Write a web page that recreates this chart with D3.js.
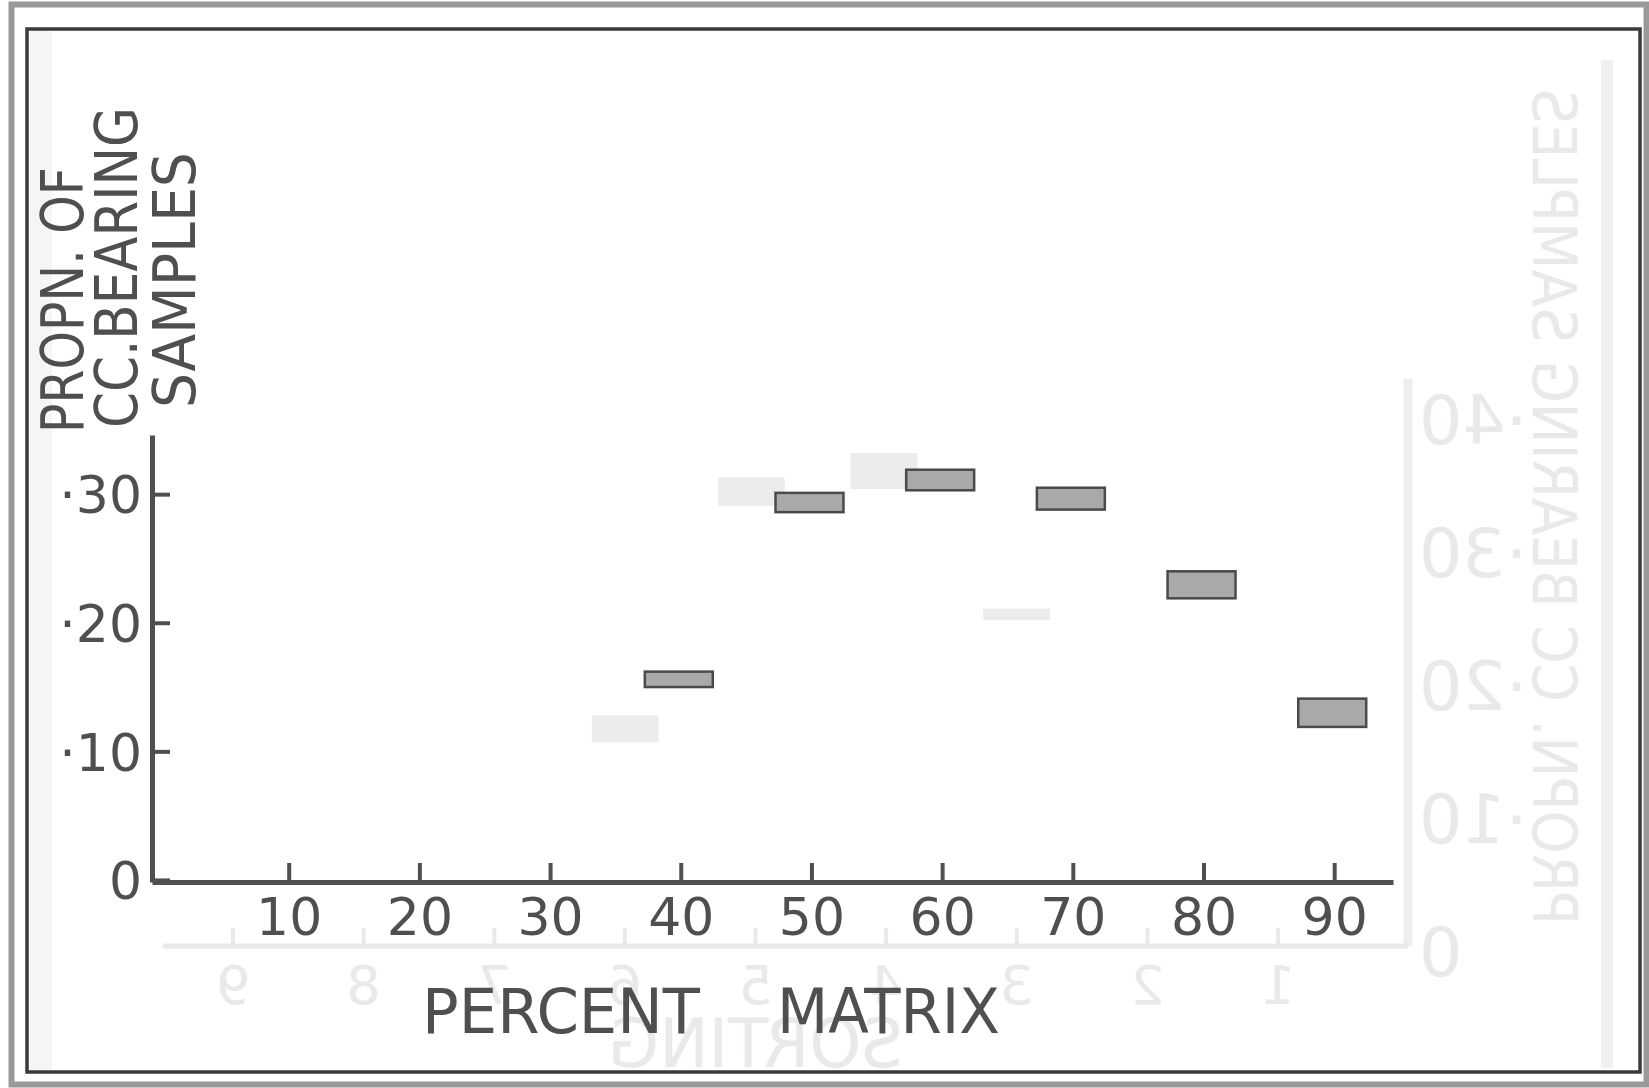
<!DOCTYPE html>
<html>
<head>
<meta charset="utf-8">
<script src="https://cdn.jsdelivr.net/npm/d3@7"></script>
<style>
  html, body { margin: 0; padding: 0; background: #fff; }
  svg { display: block; font-family: "DejaVu Sans", sans-serif; }
</style>
</head>
<body>
<svg id="chart" width="1649" height="1088"></svg>
<script>
// Proportion of CC-bearing samples against percent matrix.
// Each bar is a range (low..high).
const categories = [40, 50, 60, 70, 80, 90];
const lowValues  = [0.150, 0.286, 0.303, 0.288, 0.219, 0.119];
const highValues = [0.162, 0.301, 0.319, 0.305, 0.240, 0.141];

const xTicks = [10, 20, 30, 40, 50, 60, 70, 80, 90];
const yTicks = [0, 0.1, 0.2, 0.3];

// show-through from the reverse side of the page (mirrored "SORTING" chart)
const ghostCenters = [35.75, 45.4, 55.55, 65.7];
const ghostLow     = [0.107, 0.291, 0.304, 0.202];
const ghostHigh    = [0.128, 0.313, 0.332, 0.211];
const ghostXLabels = [1, 2, 3, 4, 5, 6, 7, 8, 9];
const ghostYTicks  = [0, 0.1, 0.2, 0.3, 0.4];

const svg = d3.select("#chart");
const INK = "#4f4f4f";
const GHOST = "#e9e9e9";

// scales (front chart)
const x = d3.scaleLinear().domain([-0.46, 94.5]).range([152, 1393]);
const y = d3.scaleLinear().domain([-0.0016, 0.346]).range([882, 435]);

// scales (ghost chart, mirrored)
const gx = d3.scaleLinear().domain([1, 9]).range([1278, 233]);
const gy = d3.scaleLinear().domain([0, 0.4]).range([951, 419]);

// page frame
svg.append("rect")
  .attr("x", 11.5).attr("y", 4.5).attr("width", 1635).attr("height", 1080)
  .attr("fill", "none").attr("stroke", "#999").attr("stroke-width", 6);
svg.append("rect")
  .attr("x", 30).attr("y", 31).attr("width", 22).attr("height", 1039)
  .attr("fill", "#f5f5f5");

// ---- ghost layer ----
const ghost = svg.append("g").attr("class", "ghost");

ghost.append("line")
  .attr("x1", 1607).attr("x2", 1607).attr("y1", 60).attr("y2", 1068)
  .attr("stroke", "#f0f0f0").attr("stroke-width", 12);

ghost.selectAll("rect.gbar")
  .data(ghostCenters)
  .join("rect")
    .attr("class", "gbar")
    .attr("x", d => x(d - 2.55))
    .attr("width", d => x(d + 2.55) - x(d - 2.55))
    .attr("y", (d, i) => y(ghostHigh[i]))
    .attr("height", (d, i) => y(ghostLow[i]) - y(ghostHigh[i]))
    .attr("fill", "#ececec");

ghost.append("line")
  .attr("x1", 1408).attr("x2", 1408).attr("y1", gy(0.43)).attr("y2", 946)
  .attr("stroke", "#eeeeee").attr("stroke-width", 9);
ghost.append("line")
  .attr("x1", 163).attr("x2", 1408).attr("y1", 946).attr("y2", 946)
  .attr("stroke", GHOST).attr("stroke-width", 5);

ghost.selectAll("line.gtick")
  .data(ghostXLabels)
  .join("line")
    .attr("class", "gtick")
    .attr("x1", d => gx(d)).attr("x2", d => gx(d))
    .attr("y1", 946).attr("y2", 928)
    .attr("stroke", GHOST).attr("stroke-width", 4);

ghost.selectAll("text.gxl")
  .data(ghostXLabels)
  .join("text")
    .attr("class", "gxl")
    .attr("transform", d => `translate(${gx(d)},1004) scale(-1,1)`)
    .attr("text-anchor", "middle")
    .attr("font-size", 54)
    .attr("fill", GHOST)
    .text(d => d);

ghost.append("text")
  .attr("transform", `translate(${gx(5)},1067) scale(-1,1)`)
  .attr("text-anchor", "middle")
  .attr("font-size", 68)
  .attr("fill", GHOST)
  .attr("textLength", 295)
  .attr("lengthAdjust", "spacingAndGlyphs")
  .text("SORTING");

ghost.selectAll("text.gyl")
  .data(ghostYTicks)
  .join("text")
    .attr("class", "gyl")
    .attr("transform", d => `translate(1419,${gy(d) + 25}) scale(-1,1)`)
    .attr("text-anchor", "end")
    .attr("font-size", 68)
    .attr("fill", GHOST)
    .text(d => d === 0 ? "0" : "\u00B7" + Math.round(d * 100));

ghost.append("text")
  .attr("transform", "translate(1533,925) rotate(90) scale(-1,1)")
  .attr("font-size", 60)
  .attr("fill", GHOST)
  .attr("textLength", 836)
  .attr("lengthAdjust", "spacingAndGlyphs")
  .text("PROPN. CC BEARING SAMPLES");

// inner border
svg.append("rect")
  .attr("x", 27).attr("y", 29).attr("width", 1613).attr("height", 1043)
  .attr("fill", "none").attr("stroke", "#3a3a3a").attr("stroke-width", 3.5);

// ---- front chart ----
const xAxis = d3.axisBottom(x)
  .tickValues(xTicks)
  .tickSizeInner(-19)
  .tickSizeOuter(0)
  .tickPadding(16)
  .tickFormat(d => d);

const gX = svg.append("g")
  .attr("transform", `translate(0,${y.range()[0]})`)
  .call(xAxis);

const yAxis = d3.axisLeft(y)
  .tickValues(yTicks)
  .tickSizeInner(-18)
  .tickSizeOuter(0)
  .tickPadding(10)
  .tickFormat(d => d === 0 ? "0" : "\u00B7" + Math.round(d * 100));

const gY = svg.append("g")
  .attr("transform", `translate(${x.range()[0]},0)`)
  .call(yAxis);

[gX, gY].forEach(g => {
  g.select(".domain").attr("stroke", INK).attr("stroke-width", 5);
  g.selectAll(".tick line").attr("stroke", INK).attr("stroke-width", 4);
  g.selectAll(".tick text")
    .attr("font-family", "DejaVu Sans, sans-serif")
    .attr("font-size", 52)
    .attr("fill", INK);
});
gY.selectAll(".tick text").attr("dy", "0.36em");

// range bars
svg.append("g").attr("class", "bars")
  .selectAll("rect")
  .data(categories)
  .join("rect")
    .attr("x", d => x(d - 2.75))
    .attr("width", d => x(d + 2.45) - x(d - 2.75))
    .attr("y", (d, i) => y(highValues[i]))
    .attr("height", (d, i) => y(lowValues[i]) - y(highValues[i]))
    .attr("fill", "#a9a9a9")
    .attr("stroke", "#4a4a4a")
    .attr("stroke-width", 2.5);

// axis titles
const yTitle = [
  { text: "PROPN. OF",  bx: 83,  start: 433, len: 266 },
  { text: "CC.BEARING", bx: 137, start: 428, len: 321 },
  { text: "SAMPLES",    bx: 195, start: 408, len: 256 }
];
svg.append("g").selectAll("text")
  .data(yTitle)
  .join("text")
    .attr("transform", d => `translate(${d.bx},${d.start}) rotate(-90)`)
    .attr("font-size", 59)
    .attr("fill", INK)
    .attr("textLength", d => d.len)
    .attr("lengthAdjust", "spacingAndGlyphs")
    .text(d => d.text);

const xTitle = [
  { text: "PERCENT", x: 422, len: 278 },
  { text: "MATRIX",  x: 777, len: 223 }
];
svg.append("g").selectAll("text")
  .data(xTitle)
  .join("text")
    .attr("x", d => d.x)
    .attr("y", 1033)
    .attr("font-size", 62)
    .attr("fill", INK)
    .attr("textLength", d => d.len)
    .attr("lengthAdjust", "spacingAndGlyphs")
    .text(d => d.text);
</script>
</body>
</html>
